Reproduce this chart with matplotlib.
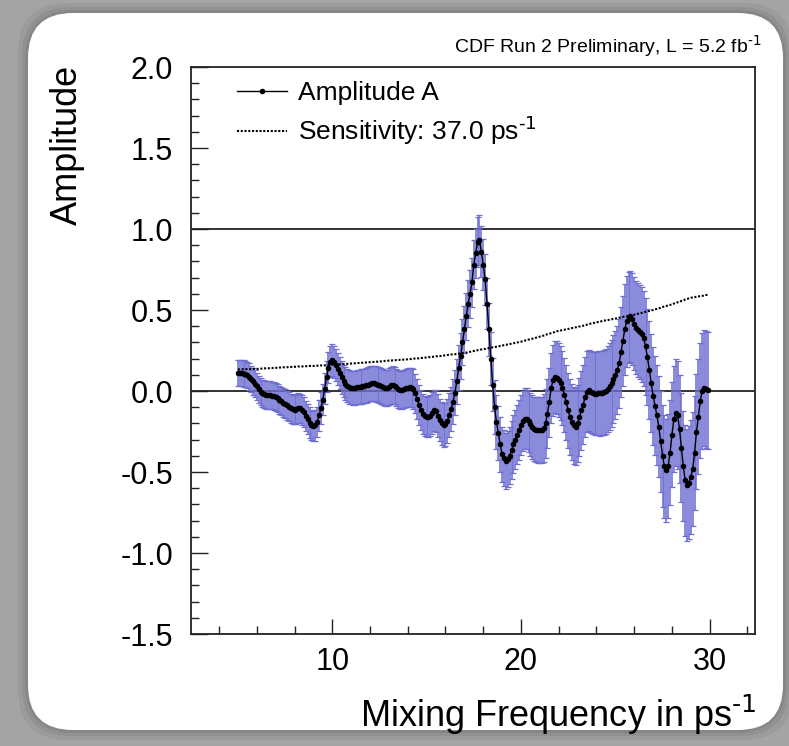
import numpy as np
import matplotlib
matplotlib.use("Agg")
import matplotlib.pyplot as plt
from matplotlib.patches import FancyBboxPatch
from matplotlib.lines import Line2D

plt.rcParams["font.family"] = ["Liberation Sans", "DejaVu Sans"]
plt.rcParams["mathtext.default"] = "regular"
plt.rcParams["axes.unicode_minus"] = False

# Mixing frequency scan points (ps^-1)
freq = np.round(np.arange(50, 300) / 10.0, 1)

# Fitted amplitude A at each frequency
amplitude = [
    0.110, 0.111, 0.111, 0.108, 0.104, 0.098, 0.088, 0.075, 0.060, 0.044,
    0.028, 0.012, -0.004, -0.014, -0.020, -0.024, -0.026, -0.027, -0.028, -0.031,
    -0.036, -0.045, -0.055, -0.063, -0.071, -0.079, -0.087, -0.097, -0.107, -0.114,
    -0.115, -0.110, -0.106, -0.108, -0.118, -0.132, -0.152, -0.175, -0.195, -0.210,
    -0.216, -0.212, -0.192, -0.150, -0.105, -0.055, 0.015, 0.088, 0.145, 0.182,
    0.190, 0.178, 0.160, 0.135, 0.110, 0.085, 0.062, 0.045, 0.032, 0.024,
    0.020, 0.019, 0.020, 0.022, 0.025, 0.027, 0.028, 0.030, 0.034, 0.040,
    0.045, 0.048, 0.047, 0.044, 0.040, 0.036, 0.030, 0.023, 0.018, 0.019,
    0.026, 0.034, 0.037, 0.032, 0.022, 0.011, 0.006, 0.008, 0.014, 0.018,
    0.021, 0.022, 0.020, 0.012, -0.015, -0.050, -0.085, -0.115, -0.140, -0.154,
    -0.160, -0.160, -0.152, -0.135, -0.120, -0.125, -0.152, -0.180, -0.200, -0.210,
    -0.205, -0.185, -0.150, -0.110, -0.065, -0.010, 0.060, 0.145, 0.215, 0.300,
    0.380, 0.460, 0.540, 0.600, 0.670, 0.780, 0.850, 0.920, 0.930, 0.860,
    0.780, 0.690, 0.540, 0.380, 0.200, 0.040, -0.100, -0.190, -0.260, -0.330,
    -0.390, -0.415, -0.430, -0.420, -0.400, -0.365, -0.330, -0.300, -0.270, -0.240,
    -0.210, -0.185, -0.172, -0.170, -0.185, -0.205, -0.222, -0.233, -0.240, -0.242,
    -0.243, -0.240, -0.228, -0.200, -0.140, -0.070, 0.020, 0.065, 0.085, 0.083,
    0.068, 0.048, 0.020, -0.025, -0.070, -0.120, -0.160, -0.192, -0.212, -0.220,
    -0.200, -0.160, -0.120, -0.085, -0.035, -0.005, 0.005, -0.005, -0.014, -0.016,
    -0.016, -0.015, -0.015, -0.012, -0.008, -0.003, 0.010, 0.028, 0.048, 0.075,
    0.100, 0.130, 0.170, 0.240, 0.310, 0.380, 0.430, 0.455, 0.460, 0.445,
    0.415, 0.390, 0.375, 0.365, 0.350, 0.325, 0.275, 0.210, 0.130, 0.050,
    -0.030, -0.090, -0.150, -0.220, -0.310, -0.400, -0.465, -0.490, -0.460, -0.380,
    -0.270, -0.175, -0.135, -0.150, -0.235, -0.350, -0.465, -0.550, -0.580, -0.565,
    -0.530, -0.480, -0.380, -0.250, -0.160, -0.060, 0.000, 0.018, 0.010, 0.005,
]

# Statistical uncertainty on the amplitude
amp_error = [
    0.081, 0.081, 0.081, 0.082, 0.082, 0.082, 0.082, 0.082, 0.083, 0.083,
    0.083, 0.083, 0.084, 0.084, 0.085, 0.085, 0.085, 0.086, 0.086, 0.087,
    0.087, 0.087, 0.088, 0.088, 0.089, 0.089, 0.089, 0.090, 0.090, 0.091,
    0.091, 0.091, 0.092, 0.092, 0.092, 0.093, 0.093, 0.093, 0.094, 0.094,
    0.094, 0.094, 0.095, 0.095, 0.096, 0.096, 0.096, 0.097, 0.097, 0.098,
    0.098, 0.099, 0.099, 0.100, 0.100, 0.101, 0.101, 0.102, 0.102, 0.103,
    0.103, 0.104, 0.104, 0.105, 0.105, 0.106, 0.106, 0.107, 0.107, 0.108,
    0.108, 0.109, 0.109, 0.110, 0.110, 0.111, 0.111, 0.112, 0.113, 0.113,
    0.114, 0.114, 0.115, 0.115, 0.116, 0.116, 0.117, 0.117, 0.118, 0.118,
    0.119, 0.120, 0.120, 0.121, 0.122, 0.122, 0.123, 0.124, 0.124, 0.125,
    0.126, 0.127, 0.127, 0.128, 0.129, 0.130, 0.131, 0.131, 0.132, 0.133,
    0.134, 0.135, 0.136, 0.137, 0.138, 0.138, 0.139, 0.140, 0.141, 0.142,
    0.143, 0.144, 0.146, 0.147, 0.149, 0.150, 0.151, 0.153, 0.154, 0.156,
    0.157, 0.158, 0.160, 0.161, 0.162, 0.164, 0.165, 0.166, 0.167, 0.169,
    0.170, 0.172, 0.173, 0.175, 0.176, 0.178, 0.179, 0.181, 0.182, 0.184,
    0.185, 0.187, 0.189, 0.191, 0.193, 0.195, 0.196, 0.198, 0.200, 0.202,
    0.204, 0.206, 0.208, 0.211, 0.213, 0.215, 0.217, 0.219, 0.222, 0.224,
    0.226, 0.227, 0.229, 0.230, 0.232, 0.233, 0.234, 0.236, 0.237, 0.239,
    0.240, 0.242, 0.244, 0.245, 0.247, 0.249, 0.251, 0.253, 0.254, 0.256,
    0.258, 0.259, 0.261, 0.262, 0.264, 0.265, 0.266, 0.268, 0.269, 0.271,
    0.272, 0.273, 0.275, 0.276, 0.278, 0.279, 0.280, 0.282, 0.283, 0.285,
    0.286, 0.288, 0.290, 0.291, 0.293, 0.295, 0.297, 0.299, 0.300, 0.302,
    0.304, 0.306, 0.308, 0.310, 0.312, 0.315, 0.317, 0.319, 0.321, 0.323,
    0.325, 0.328, 0.330, 0.333, 0.335, 0.338, 0.340, 0.343, 0.345, 0.348,
    0.350, 0.351, 0.352, 0.354, 0.355, 0.356, 0.357, 0.358, 0.360, 0.361,
]

# 95% CL sensitivity curve: 1.645 sigma
sensitivity = 1.645 * np.asarray(amp_error)

W, H, DPI = 789, 746, 100
fig = plt.figure(figsize=(W / DPI, H / DPI), dpi=DPI)
fig.patch.set_facecolor("#a4a4a4")

# rounded white panel with a soft shadow behind it
for grow, alpha in [(0.10, 0.10), (0.06, 0.14), (0.03, 0.18)]:
    sh = FancyBboxPatch((0.28 - grow, 0.16 - grow), 7.55 + 2 * grow, 7.17 + 2 * grow,
                        boxstyle="round,pad=0,rounding_size=0.5",
                        transform=fig.dpi_scale_trans, facecolor="#555555",
                        edgecolor="none", alpha=alpha, zorder=-3)
    fig.patches.append(sh)
panel = FancyBboxPatch((0.28, 0.16), 7.55, 7.17,
                       boxstyle="round,pad=0,rounding_size=0.45",
                       transform=fig.dpi_scale_trans, facecolor="white",
                       edgecolor="none", zorder=-2)
fig.patches.append(panel)

ax = fig.add_axes([190.7 / W, 1 - 634 / H, 564.3 / W, 567 / H])
ax.set_zorder(1)
ax.set_facecolor("none")
ax.set_xlim(2.5, 32.4)
ax.set_ylim(-1.5, 2.0)

ax.axhline(0.0, color="#111111", lw=1.2, zorder=1)
ax.axhline(1.0, color="#111111", lw=1.2, zorder=1)

ax.errorbar(freq, amplitude, yerr=amp_error, fmt="none", ecolor="#6e6ed2",
            elinewidth=1.15, capsize=2.0, capthick=0.9, zorder=2)
ax.plot(freq, sensitivity, color="black", lw=1.5, linestyle=(0, (1, 0.8)), zorder=3)
ax.plot(freq, amplitude, color="black", lw=1.0, marker="o", ms=4.0,
        markeredgewidth=0, zorder=4)

ax.set_xticks([10, 20, 30])
ax.set_xticks(np.arange(4, 33, 2), minor=True)
ax.set_yticks(np.arange(-1.5, 2.01, 0.5))
ax.set_yticks(np.arange(-1.5, 2.001, 0.1), minor=True)
ax.yaxis.set_major_formatter(matplotlib.ticker.FormatStrFormatter("%.1f"))
ax.tick_params(axis="both", which="both", direction="in", top=False, right=False,
               color="#222222", width=1.0)
ax.tick_params(axis="y", which="major", length=12, pad=12.5, labelsize=22)
ax.tick_params(axis="y", which="minor", length=6)
ax.tick_params(axis="x", which="major", length=11, pad=9, labelsize=22)
ax.tick_params(axis="x", which="minor", length=6)
for s in ax.spines.values():
    s.set_color("#222222")
    s.set_linewidth(1.3)

handles = [
    Line2D([], [], color="black", lw=1.0, marker="o", ms=4.0, markeredgewidth=0),
    Line2D([], [], color="black", lw=1.5, linestyle=(0, (1, 0.8))),
]
labels = ["Amplitude A", r"Sensitivity: 37.0 ps$^{\text{-1}}$"]
ax.legend(handles, labels, loc="upper left", bbox_to_anchor=(0.082, 0.975),
          frameon=False, fontsize=19, handlelength=1.9, handletextpad=0.4,
          labelspacing=0.35, borderaxespad=0, borderpad=0)

fig.text(67 / W, 1 - 65 / H, "Amplitude", rotation=90, ha="center", va="top",
         fontsize=26)
xl = fig.text(757 / W, 1 - 727 / H, r"Mixing Frequency in ps$^{\text{-1}}$",
              ha="right", va="baseline", fontsize=26)
xl.set_clip_path(panel)
fig.text(762 / W, 1 - 53 / H, r"CDF Run 2 Preliminary, L = 5.2 fb$^{\text{-1}}$",
         ha="right", va="baseline", fontsize=14)

fig.savefig("out.png", dpi=DPI)
